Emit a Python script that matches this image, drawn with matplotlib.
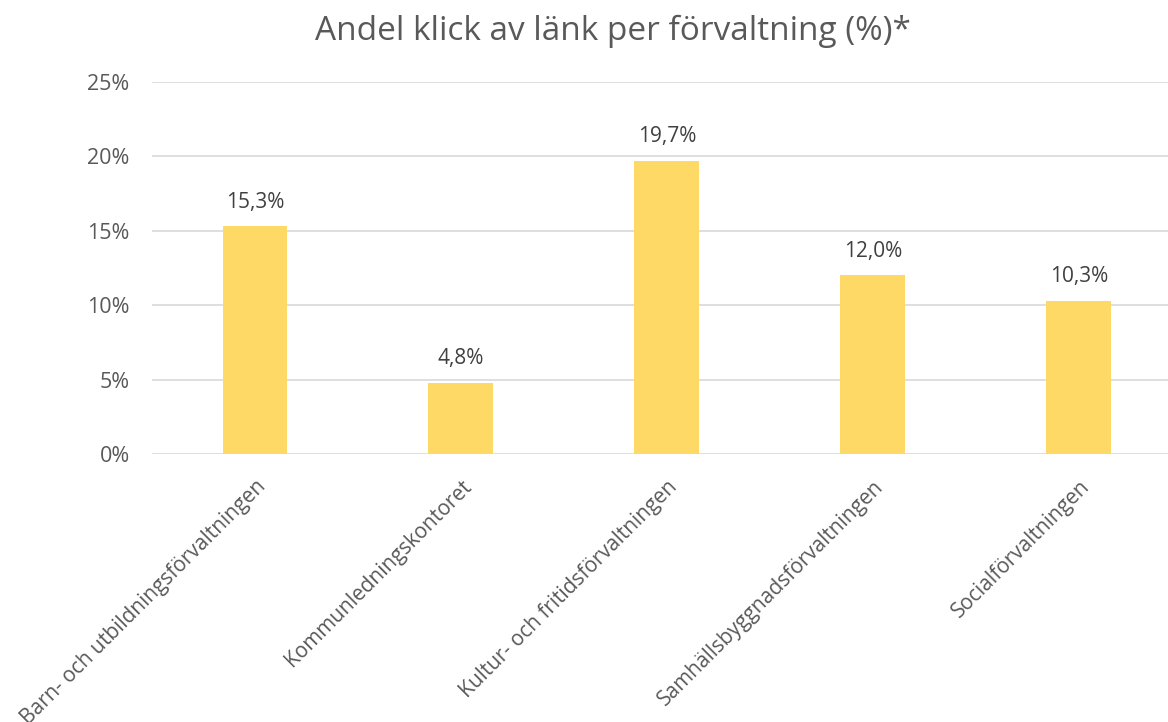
import matplotlib.pyplot as plt
from matplotlib.ticker import FuncFormatter

# Data
categories = [
    "Barn- och utbildningsförvaltningen",
    "Kommunledningskontoret",
    "Kultur- och fritidsförvaltningen",
    "Samhällsbyggnadsförvaltningen",
    "Socialförvaltningen",
]
values = [0.153, 0.048, 0.197, 0.120, 0.103]
value_labels = ["15,3%", "4,8%", "19,7%", "12,0%", "10,3%"]
yticks = [0, 0.05, 0.10, 0.15, 0.20, 0.25]

plt.rcParams['font.family'] = ['Open Sans', 'DejaVu Sans']

fig = plt.figure(figsize=(11.68, 7.22), dpi=100)
ax = fig.add_axes([0.1301, 0.3712, 0.8818, 0.5152])

x = range(len(categories))
ax.bar(x, values, width=0.315, color='#FFD966', zorder=2)

for xi, v, lab in zip(x, values, value_labels):
    ax.text(xi, v + 0.009, lab, ha='center', va='bottom', fontsize=15, color='#404040')

ax.set_xlim(-0.5, len(categories) - 0.5)
ax.set_ylim(0, 0.25)
ax.set_yticks(yticks)
ax.yaxis.set_major_formatter(FuncFormatter(lambda v, p: f"{v*100:.0f}%"))
ax.grid(axis='y', color='#D9D9D9', linewidth=1.2, zorder=0)

ax.set_xticks(list(x))
ax.set_xticklabels(categories, rotation=45, ha='right', va='top',
                   rotation_mode='anchor', fontsize=15, color='#595959')
ax.tick_params(axis='y', labelsize=15.5, labelcolor='#595959', length=0, pad=16)
ax.tick_params(axis='x', length=0, pad=16)

for s in ax.spines.values():
    s.set_visible(False)

fig.text(0.525, 0.944, "Andel klick av länk per förvaltning (%)*", ha='center', va='baseline',
         fontsize=24, color='#595959')

fig.savefig('out.png', dpi=100)
